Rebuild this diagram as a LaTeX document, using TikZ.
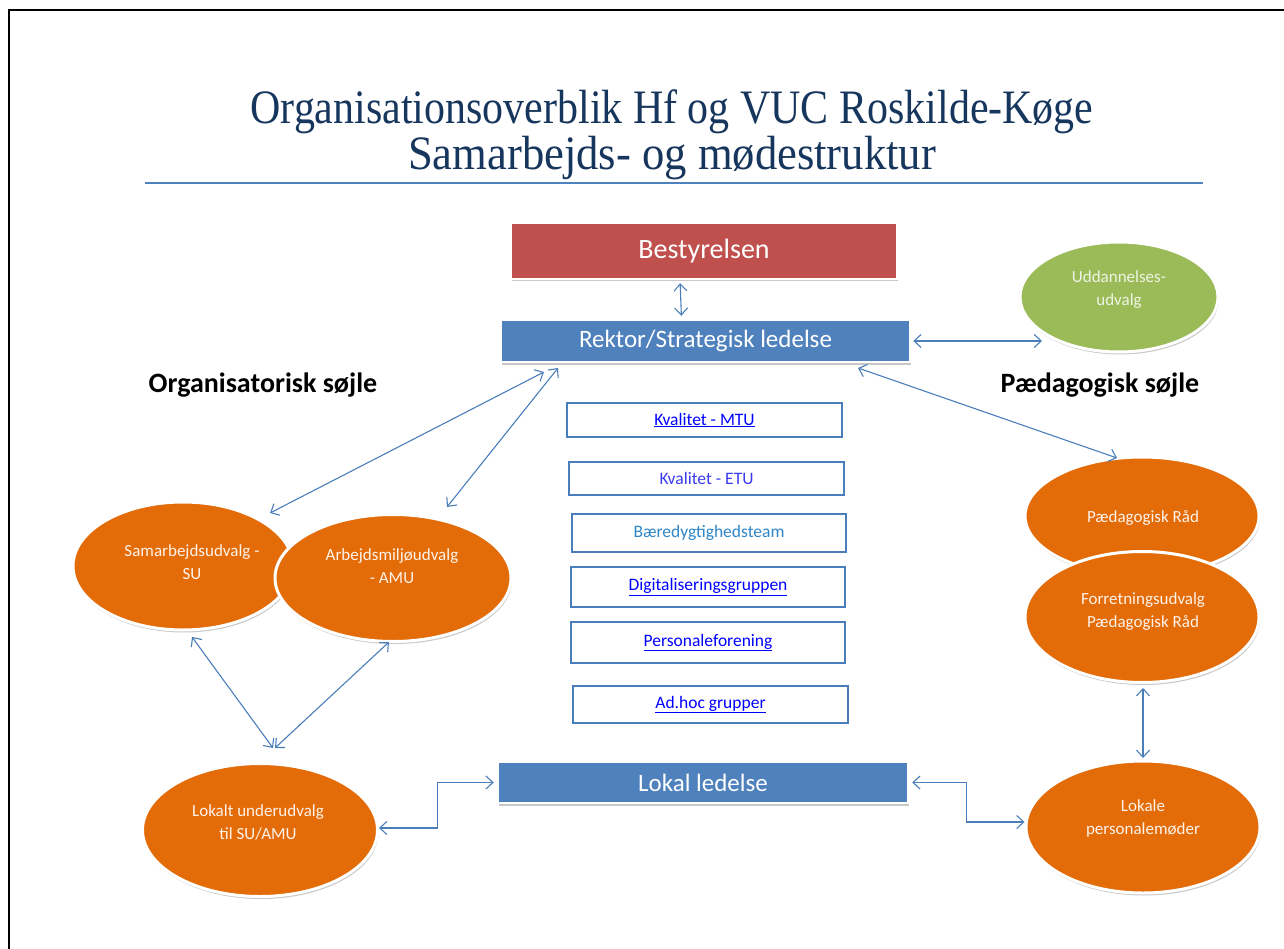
\documentclass[tikz,border=0pt]{standalone}
\usepackage{fontspec}
\usepackage{graphicx}
\setmainfont{Carlito}
\newfontfamily\titlefont{Liberation Serif}
\usetikzlibrary{shapes.geometric,arrows.meta,shadows,calc}
\definecolor{titleblue}{HTML}{17365D}
\definecolor{accblue}{HTML}{4F81BD}
\definecolor{linecol}{HTML}{4A7EBB}
\definecolor{accred}{HTML}{C0504D}
\definecolor{accgreen}{HTML}{9BBB59}
\definecolor{accorange}{HTML}{E36C09}
\definecolor{linkblue}{HTML}{0000FF}
\definecolor{etublue}{HTML}{3B3BEE}
\definecolor{baerblue}{HTML}{2E86C8}
\definecolor{lighttxt}{HTML}{FFF3EA}
\definecolor{greentxt}{HTML}{EEF4E2}
\tikzset{
  arr/.style={draw=linecol, line width=1.1pt,
    {Straight Barb[length=7pt,width=13pt]}-{Straight Barb[length=7pt,width=13pt]}},
  shad/.style={drop shadow={shadow xshift=1pt,shadow yshift=-2.5pt,opacity=0.3,fill=black!70}},
  solidbox/.style={rectangle, draw=white, line width=2.5pt, inner sep=0pt, shad, text=white},
  orell/.style={ellipse, draw=white, line width=3pt, fill=accorange, inner sep=0pt, shad},
  elltxt/.style={text=lighttxt, align=center, font=\fontsize{17}{23}\selectfont, inner sep=0pt},
  linkbox/.style={rectangle, draw=linecol, line width=2.5pt, fill=white, inner sep=0pt,
    font=\fontsize{17.5}{20}\selectfont},
  pillar/.style={font=\bfseries\fontsize{28}{32}\selectfont, inner sep=0pt},
  titletxt/.style={anchor=base, text=titleblue, font=\titlefont\fontsize{48}{48}\selectfont, inner sep=0pt}
}
\begin{document}
\begin{tikzpicture}[x=1pt,y=-1pt]
\useasboundingbox[fill=white] (0,0) rectangle (1284,949);
% frame
\draw[line width=2pt] (9,949) -- (9,10) -- (1284,10);
% title
\node[titletxt] (t1) at (672,124)
  {\resizebox{843pt}{\height}{Organisationsoverblik Hf og VUC Roskilde-Køge}};
\node[titletxt] (t2) at (672,170)
  {\resizebox{528pt}{\height}{Samarbejds- og mødestruktur}};
\draw[accblue, line width=2pt] (145,183) -- (1203,183);

% top boxes
\node[solidbox, fill=accred, minimum width=386pt, minimum height=56pt, font=\fontsize{28}{32}\selectfont] (best) at (704,251) {Bestyrelsen};
\node[solidbox, fill=accblue, minimum width=409pt, minimum height=42pt, font=\fontsize{25}{28}\selectfont] (rektor) at (705.5,341) {Rektor/Strategisk ledelse};
\node[solidbox, fill=accblue, minimum width=410pt, minimum height=41pt, font=\fontsize{25}{28}\selectfont] (lokal) at (703,782.5) {Lokal ledelse};

% pillars
\node[pillar] (orgp) at (263,385) {Organisatorisk søjle};
\node[pillar] (paedp) at (1100,385) {Pædagogisk søjle};

% green ellipse
\node[ellipse, draw=white, line width=3pt, fill=accgreen, inner sep=0pt, shad, minimum width=198pt, minimum height=110pt] (udd) at (1119,297) {};
\node[elltxt, text=greentxt] (udd-t) at (1119,290) {Uddannelses-\\udvalg};

% left ellipses
\node[orell, minimum width=220pt, minimum height=128pt] (su) at (183,566) {};
\node[elltxt] (su-t) at (192,562) {Samarbejdsudvalg -\\SU};
\node[orell, minimum width=236pt, minimum height=127pt] (amu) at (393,578) {};
\node[elltxt] (amu-t) at (392,566) {Arbejdsmiljøudvalg\\- AMU};
\node[orell, minimum width=235pt, minimum height=133pt] (lu) at (260,830) {};
\node[elltxt] (lu-t) at (258,822) {Lokalt underudvalg\\til SU/AMU};

% right ellipses
\node[orell, minimum width=234pt, minimum height=118pt] (pr) at (1142,516) {};
\node[elltxt] (pr-t) at (1143,518) {Pædagogisk Råd};
\node[orell, minimum width=234pt, minimum height=131pt] (fu) at (1142,617) {};
\node[elltxt] (fu-t) at (1143,612) {Forretningsudvalg\\Pædagogisk Råd};
\node[orell, minimum width=234pt, minimum height=132pt] (lpm) at (1143,827) {};
\node[elltxt] (lpm-t) at (1143,818) {Lokale\\personalemøder};

% center link boxes
\node[linkbox, minimum width=275pt, minimum height=34pt, text=linkblue] (mtu) at (704.5,420) {\underline{Kvalitet - MTU}};
\node[linkbox, minimum width=275pt, minimum height=33pt, text=etublue] (etu) at (706.5,478.5) {Kvalitet - ETU};
\node[linkbox, minimum width=274pt, minimum height=38pt, text=baerblue] (baer) at (709,533) {Bæredygtighedsteam};
\node[linkbox, minimum width=274pt, minimum height=40pt, text=linkblue] (digi) at (708,587) {\underline{Digitaliseringsgruppen}};
\node[linkbox, minimum width=274pt, minimum height=41pt, text=linkblue] (pers) at (708,642.5) {\underline{Personaleforening}};
\node[linkbox, minimum width=275pt, minimum height=37pt, text=linkblue] (adhoc) at (710.5,704.5) {\underline{Ad.hoc grupper}};

% free arrow ends
\coordinate (r-su) at (544,372);
\coordinate (su-r) at (270,513);
\coordinate (r-amu) at (558,368);
\coordinate (amu-r) at (447,507);
\coordinate (r-pr) at (858,368);
\coordinate (pr-r) at (1117,458);
\coordinate (su-b) at (192,637);
\coordinate (amu-b) at (389,642);
\coordinate (meet1) at (273,748);
\coordinate (meet2) at (275,748);
\coordinate (fu-b) at (1143,688);
\coordinate (lpm-t0) at (1143,758);
\coordinate (udd-in) at (1042,341);

% connectors
\draw[arr, shorten <=3pt, shorten >=3pt] ([xshift=-24pt]best.south) -- ([xshift=-24pt]rektor.north);
\draw[arr] ([xshift=2pt]rektor.east) -- (udd-in);
\draw[arr] (r-su) -- (su-r);
\draw[arr] (r-amu) -- (amu-r);
\draw[arr] (r-pr) -- (pr-r);
\draw[arr] (su-b) -- (meet1);
\draw[arr] (amu-b) -- (meet2);
\draw[arr] (fu-b) -- (lpm-t0);
\draw[arr] ([xshift=-3pt]lokal.west) -- ++(-56,0) |- ([yshift=2pt]lu.east);
\draw[arr] ([xshift=3pt]lokal.east) -- ++(54,0) |- ([yshift=5pt]lpm.west);
\end{tikzpicture}
\end{document}
